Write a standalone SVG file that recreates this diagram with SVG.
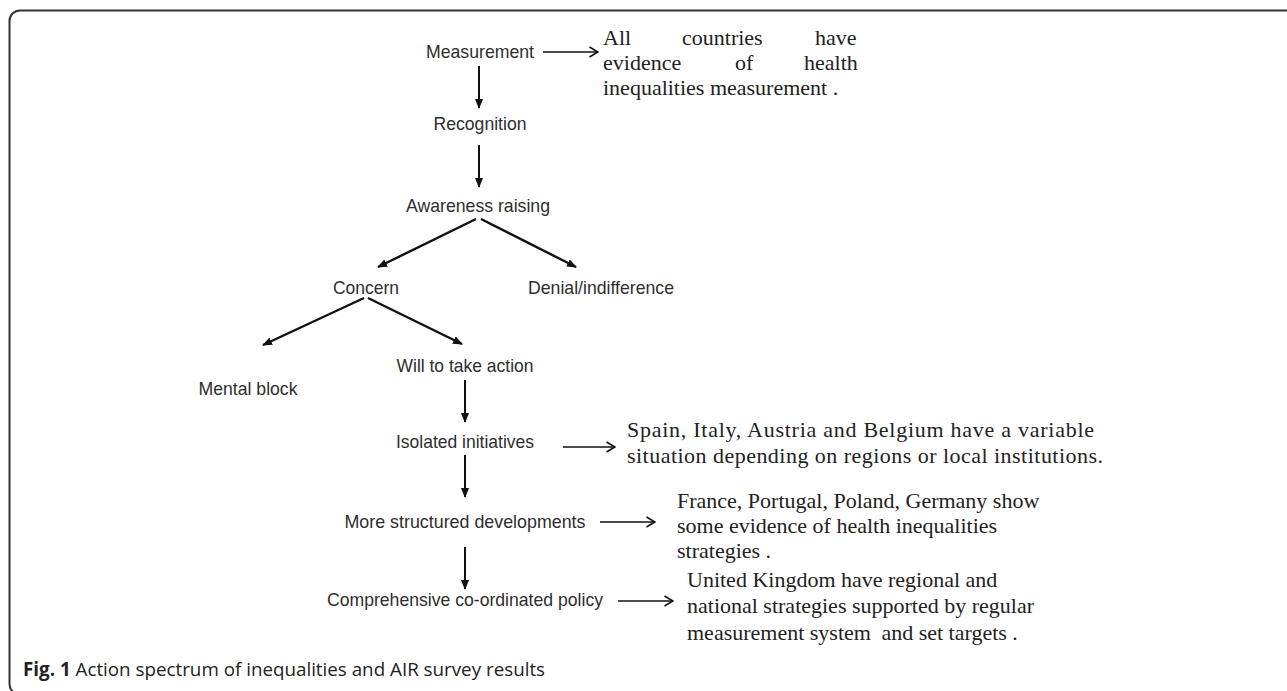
<svg xmlns="http://www.w3.org/2000/svg" width="1287" height="691" viewBox="0 0 1287 691">
<style>
.lbl{font-family:"Liberation Sans",Arial,sans-serif;font-size:19px;fill:#2e2e2e;text-anchor:middle}
.ser{font-family:"Liberation Serif","Times New Roman",serif;font-size:22px;fill:#222}
.cap{font-family:"Open Sans","Noto Sans",sans-serif;font-size:18.8px;fill:#222}
.solid{stroke:#111;stroke-width:2;fill:none;marker-end:url(#fh)}
.diag{stroke:#111;stroke-width:2.4;fill:none;marker-end:url(#fh)}
.open{stroke:#111;stroke-width:1.6;fill:none;marker-end:url(#oh)}
</style>
<defs>
<marker id="fh" viewBox="0 0 10 8" refX="9" refY="4" markerWidth="10" markerHeight="8" markerUnits="userSpaceOnUse" orient="auto">
<path d="M0,0 L10,4 L0,8 Z" fill="#111"/>
</marker>
<marker id="oh" viewBox="0 0 10 12" refX="9.5" refY="6" markerWidth="10" markerHeight="12" markerUnits="userSpaceOnUse" orient="auto">
<path d="M1,1 L9.5,6 L1,11" fill="none" stroke="#111" stroke-width="1.6"/>
</marker>
</defs>
<rect width="1287" height="691" fill="#fff"/>
<path d="M1295 10.5 H20 A10.5 10.5 0 0 0 9.5 21 V684 A10.5 10.5 0 0 0 20 694.5 H1295" fill="none" stroke="#333" stroke-width="2"/>

<g id="connectors">
<line class="open" x1="543" y1="52" x2="598" y2="52"/>
<line class="solid" x1="479" y1="66" x2="479" y2="108"/>
<line class="solid" x1="479" y1="145" x2="479" y2="187"/>
<line class="diag" x1="476" y1="219" x2="378" y2="267"/>
<line class="diag" x1="481" y1="219" x2="576" y2="267"/>
<line class="diag" x1="364" y1="298" x2="263" y2="345"/>
<line class="diag" x1="368" y1="298" x2="462" y2="344"/>
<line class="solid" x1="465" y1="380" x2="465" y2="422"/>
<line class="open" x1="563" y1="447" x2="615" y2="447"/>
<line class="solid" x1="465" y1="455" x2="465" y2="497"/>
<line class="open" x1="600" y1="522" x2="655" y2="522"/>
<line class="solid" x1="465" y1="547" x2="465" y2="589"/>
<line class="open" x1="618" y1="601" x2="673" y2="601"/>
</g>

<g id="n-measurement"><text class="lbl" x="480" y="58" textLength="108" lengthAdjust="spacingAndGlyphs">Measurement</text></g>
<g id="n-measurement-note"><text class="ser" y="45"><tspan x="603">All</tspan><tspan x="682">countries</tspan><tspan x="815">have</tspan></text>
<text class="ser" y="70"><tspan x="603">evidence</tspan><tspan x="735">of</tspan><tspan x="804">health</tspan></text>
<text class="ser" x="603" y="95">inequalities measurement .</text></g>
<g id="n-recognition"><text class="lbl" x="480" y="130" textLength="93" lengthAdjust="spacingAndGlyphs">Recognition</text></g>
<g id="n-awareness"><text class="lbl" x="478" y="212" textLength="144" lengthAdjust="spacingAndGlyphs">Awareness raising</text></g>
<g id="n-concern"><text class="lbl" x="366" y="294" textLength="66" lengthAdjust="spacingAndGlyphs">Concern</text></g>
<g id="n-denial"><text class="lbl" x="601" y="294" textLength="146" lengthAdjust="spacingAndGlyphs">Denial/indifference</text></g>
<g id="n-mental"><text class="lbl" x="248" y="395" textLength="99" lengthAdjust="spacingAndGlyphs">Mental block</text></g>
<g id="n-will"><text class="lbl" x="465" y="372" textLength="137" lengthAdjust="spacingAndGlyphs">Will to take action</text></g>
<g id="n-isolated"><text class="lbl" x="465" y="448" textLength="138" lengthAdjust="spacingAndGlyphs">Isolated initiatives</text></g>
<g id="n-isolated-note"><text class="ser" x="627" y="437" textLength="467" lengthAdjust="spacing">Spain, Italy, Austria and Belgium have a variable</text>
<text class="ser" x="627" y="463" textLength="476" lengthAdjust="spacing">situation depending on regions or local institutions.</text></g>
<g id="n-structured"><text class="lbl" x="465" y="528" textLength="241" lengthAdjust="spacingAndGlyphs">More structured developments</text></g>
<g id="n-structured-note"><text class="ser" x="677" y="508">France, Portugal, Poland, Germany show</text>
<text class="ser" x="677" y="533">some evidence of health inequalities</text>
<text class="ser" x="677" y="558">strategies .</text></g>
<g id="n-comprehensive"><text class="lbl" x="465" y="606" textLength="276" lengthAdjust="spacingAndGlyphs">Comprehensive co-ordinated policy</text></g>
<g id="n-comprehensive-note"><text class="ser" x="687" y="587">United Kingdom have regional and</text>
<text class="ser" x="687" y="613">national strategies supported by regular</text>
<text class="ser" x="687" y="640">measurement system <tspan dx="5">and set targets .</tspan></text></g>

<text class="cap" x="23" y="676"><tspan font-weight="bold">Fig. 1</tspan> Action spectrum of inequalities and AIR survey results</text>
</svg>
